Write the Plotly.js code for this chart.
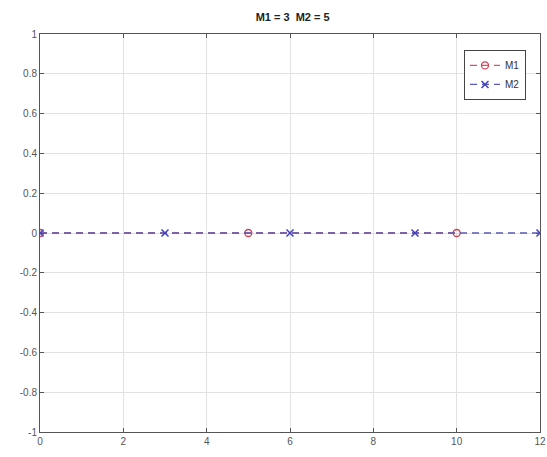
<!DOCTYPE html>
<html><head><meta charset="utf-8">
<script src="https://cdn.plot.ly/plotly-3.0.1.min.js"></script>
<style>html,body{margin:0;padding:0;background:#fff}#plot{width:547px;height:457px}</style>
</head><body><div id="plot"></div>
<script>
const titleText = "M1 = 3  M2 = 5";
const m1X = [0, 5, 10];
const m1Y = [0, 0, 0];
const m2X = [0, 3, 6, 9, 12];
const m2Y = [0, 0, 0, 0, 0];
const xTicks = [0, 2, 4, 6, 8, 10, 12];
const yTicks = [-1, -0.8, -0.6, -0.4, -0.2, 0, 0.2, 0.4, 0.6, 0.8, 1];

const traces = [
  {x: m1X, y: m1Y, name: 'M1', mode: 'lines+markers', type: 'scatter',
   line: {color: '#e05060', width: 1.3, dash: '7px,5px'},
   marker: {symbol: 'circle-open', size: 7, color: '#d04050', line: {width: 1.3}}},
  {x: m2X, y: m2Y, name: 'M2', mode: 'lines+markers', type: 'scatter',
   line: {color: '#5a5ab8', width: 1.3, dash: '7px,5px'},
   marker: {symbol: 'x-thin-open', size: 7, color: '#4040c0', line: {width: 1.5, color: '#4040c0'}}}
];
const axisCommon = {
  showline: true, mirror: 'ticks', linecolor: '#555', linewidth: 1,
  ticks: 'inside', ticklen: 4, tickcolor: '#555',
  showgrid: true, gridcolor: '#e2e2e2', zeroline: false,
  ticklabeloverflow: 'allow',
  tickfont: {family: 'Liberation Sans, Arial, sans-serif', size: 10, color: '#555'}
};
const layout = {
  width: 547, height: 457,
  margin: {l: 40, r: 7, t: 34, b: 25},
  paper_bgcolor: '#fff', plot_bgcolor: '#fff',
  title: {text: '<b>' + titleText + '</b>', x: 0.535, xanchor: 'center', y: 0.963, yanchor: 'middle',
          font: {family: 'Liberation Sans, Arial, sans-serif', size: 11, color: '#222'}},
  xaxis: Object.assign({}, axisCommon, {range: [0, 12], tickvals: xTicks, ticktext: xTicks.map(String)}),
  yaxis: Object.assign({}, axisCommon, {range: [-1, 1], tickvals: yTicks, ticktext: yTicks.map(v => String(v))}),
  showlegend: true,
  legend: {x: 0.972, y: 0.96, xanchor: 'right', yanchor: 'top',
           bgcolor: '#fff', bordercolor: '#444', borderwidth: 1,
           font: {family: 'Liberation Sans, Arial, sans-serif', size: 10, color: '#333'},
           itemwidth: 30, tracegroupgap: 0}
};
Plotly.newPlot('plot', traces, layout, {staticPlot: true, displayModeBar: false});
</script></body></html>
